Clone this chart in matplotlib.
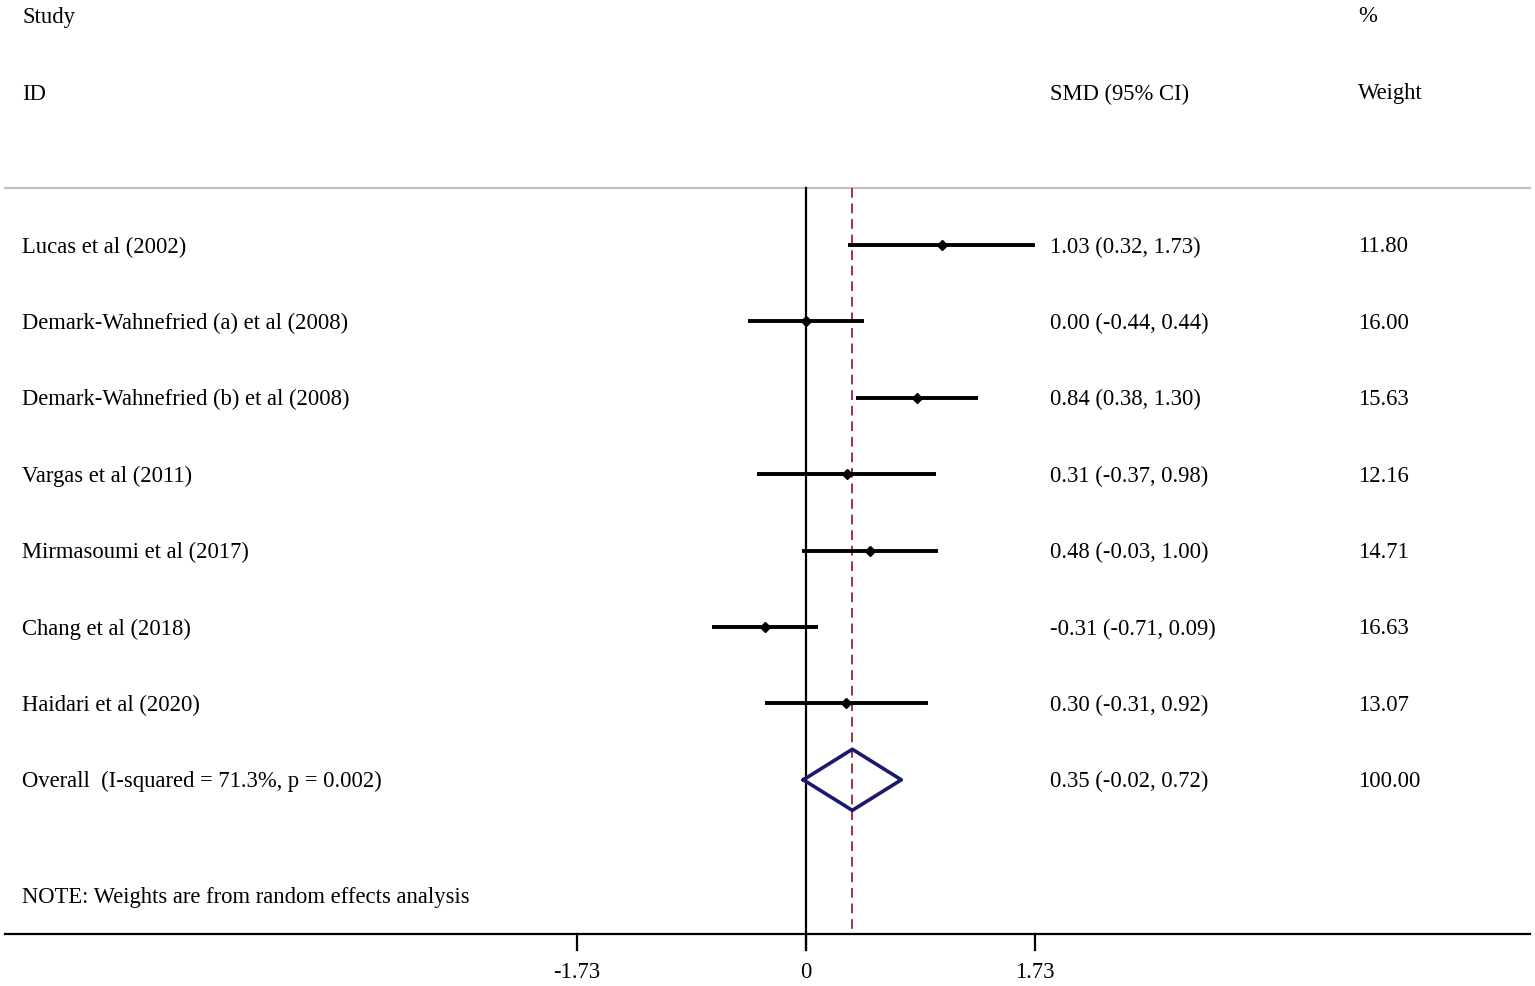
import matplotlib.pyplot as plt

studies = ["Lucas et al (2002)", "Demark-Wahnefried (a) et al (2008)",
           "Demark-Wahnefried (b) et al (2008)", "Vargas et al (2011)",
           "Mirmasoumi et al (2017)", "Chang et al (2018)", "Haidari et al (2020)"]
smd = [1.03, 0.00, 0.84, 0.31, 0.48, -0.31, 0.30]
lower = [0.32, -0.44, 0.38, -0.37, -0.03, -0.71, -0.31]
upper = [1.73, 0.44, 1.30, 0.98, 1.00, 0.09, 0.92]
weights = ["11.80", "16.00", "15.63", "12.16", "14.71", "16.63", "13.07"]

overall_label = "Overall  (I-squared = 71.3%, p = 0.002)"
overall = 0.35
overall_lo = -0.02
overall_hi = 0.72
overall_weight = "100.00"
ticks = [-1.73, 0, 1.73]

plt.rcParams['font.family'] = ['Liberation Serif', 'DejaVu Serif']
fs = 16.3

fig = plt.figure(figsize=(15.35, 9.86), dpi=100)
ax = fig.add_axes([0, 0, 1, 1])
scale = 229 / 1.73  # pixels per unit
ax.set_xlim(-806 / scale, (1535 - 806) / scale)
rowh = 76.4
ax.set_ylim((986 - 245) / rowh, -245 / rowh)
ax.axis('off')

def px(x):
    return (x - 806) / scale

def py(y):
    return (y - 245) / rowh

col_study = px(22)
col_smd = px(1050)
col_w = px(1358)
tdy = py(247) - py(245)  # small nudge so text sits like the original

def label(x, y, s, **kw):
    ax.text(x, y + tdy, s, fontsize=fs, va='center', **kw)

# headers
label(col_study, py(15), "Study")
label(col_study, py(92), "ID")
label(col_smd, py(92), "SMD (95% CI)")
label(col_w, py(15), "%")
label(col_w, py(92), "Weight")

# frame lines
ax.plot([px(5), px(1530)], [py(188), py(188)], color='#c0c0c0', lw=1.6)
ax.plot([px(5), px(1530)], [py(934), py(934)], color='black', lw=1.6)
ax.plot([0, 0], [py(188), py(950)], color='black', lw=1.6)
ax.plot([overall, overall], [py(188), py(934)], color='#9b3545', lw=1.4,
        linestyle=(0, (5, 3)))
for t in ticks:
    ax.plot([t, t], [py(934), py(950)], color='black', lw=1.6)
    label(t, py(971), "%g" % t if t != 0 else "0", ha='center')

for i, name in enumerate(studies):
    ax.plot([lower[i], upper[i]], [i, i], color='black', lw=2.8,
            solid_capstyle='butt')
    ax.plot(smd[i], i, marker='D', color='black', markersize=5.5)
    label(col_study, i, name)
    label(col_smd, i, "%.2f (%.2f, %.2f)" % (smd[i], lower[i], upper[i]))
    label(col_w, i, weights[i])

k = len(studies)
dh = 0.4
ax.plot([overall_lo, overall, overall_hi, overall, overall_lo],
        [k, k - dh, k, k + dh, k], color='#1a1a6e', lw=2.6)
label(col_study, k, overall_label)
label(col_smd, k, "%.2f (%.2f, %.2f)" % (overall, overall_lo, overall_hi))
label(col_w, k, overall_weight)

label(col_study, py(895), "NOTE: Weights are from random effects analysis")

fig.savefig("out.png", dpi=100)
